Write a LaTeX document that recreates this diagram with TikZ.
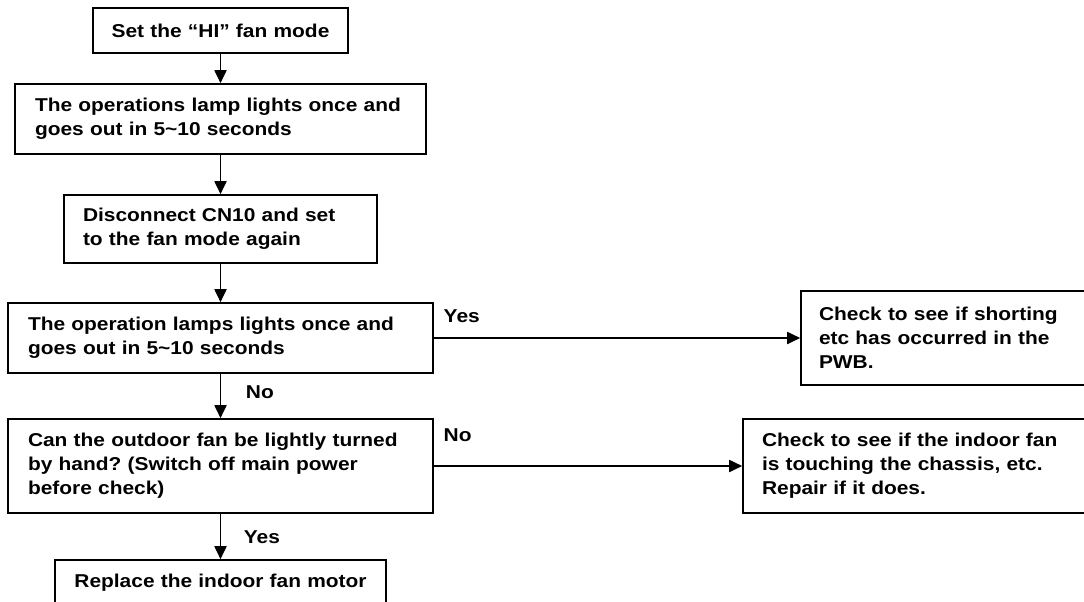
\documentclass[tikz,border=0pt]{standalone}
\usepackage{fontspec}
\usepackage{tikz}
\usetikzlibrary{arrows.meta, positioning}
\newfontfamily\flowfamily{Liberation Sans}[FakeStretch=1.125]
\newcommand{\flowfont}{\flowfamily\bfseries\fontsize{18.6}{24}\selectfont\frenchspacing}
\tikzset{
  flowbox/.style={draw, line width=1.6pt, align=left, inner xsep=20pt, inner ysep=0pt, font=\flowfont},
  flowarrow/.style={line width=1.8pt, -{Triangle[length=13pt,width=12pt]}},
  flowlabel/.style={font=\flowfont, inner sep=0pt, anchor=base west}
}

\begin{document}
\begin{tikzpicture}[x=1pt, y=-1pt]
% frame
\useasboundingbox (0,0) rectangle (1084,602);
\clip (0,0) rectangle (1084,602);

% ---- main column ----
\node[flowbox, align=center, inner xsep=4pt, text width=247pt, minimum height=45pt] (himode) at (220.5,30.5)
  {Set the “HI” fan mode};
\node[flowbox, text width=371pt, minimum height=70pt] (lamp) at (220.5,119)
  {The operations lamp lights once and\\goes out in 5\textasciitilde 10 seconds};
\node[flowbox, inner xsep=19pt, text width=275pt, minimum height=68pt] (cnten) at (220.5,229)
  {Disconnect CN10 and set\\to the fan mode again};
\node[flowbox, text width=385pt, minimum height=70pt] (lampagain) at (220.5,338)
  {The operation lamps lights once and\\goes out in 5\textasciitilde 10 seconds};
\node[flowbox, text width=385pt, minimum height=94pt] (fanturn) at (220.5,466)
  {Can the outdoor fan be lightly turned\\by hand? (Switch off main power\\before check)};
\node[flowbox, align=center, inner xsep=4pt, text width=323pt, minimum height=46pt] (motor) at (220.5,583)
  {Replace the indoor fan motor};

% ---- right column ----
\node[flowbox, inner xsep=18pt, text width=258pt, minimum height=94pt] (pwb) at (948,338)
  {Check to see if shorting\\etc has occurred in the\\PWB.};
\node[flowbox, inner xsep=19pt, text width=314pt, minimum height=94pt] (chassis) at (919,466)
  {Check to see if the indoor fan\\is touching the chassis, etc.\\Repair if it does.};

% ---- connectors ----
\draw[flowarrow] (himode) -- (lamp);
\draw[flowarrow] (lamp) -- (cnten);
\draw[flowarrow] (cnten) -- (lampagain);
\draw[flowarrow] (lampagain.east) -- node[flowlabel, pos=0, xshift=9pt, yshift=16pt] {Yes} (pwb.west);
\draw[flowarrow] (lampagain) -- node[flowlabel, pos=0, xshift=24.5pt, yshift=-25pt] {No} (fanturn);
\draw[flowarrow] (fanturn.east) -- node[flowlabel, pos=0, xshift=9pt, yshift=25pt] {No} (chassis.west);
\draw[flowarrow] (fanturn) -- node[flowlabel, pos=0, xshift=22.5pt, yshift=-30pt] {Yes} (motor);
\end{tikzpicture}
\end{document}
